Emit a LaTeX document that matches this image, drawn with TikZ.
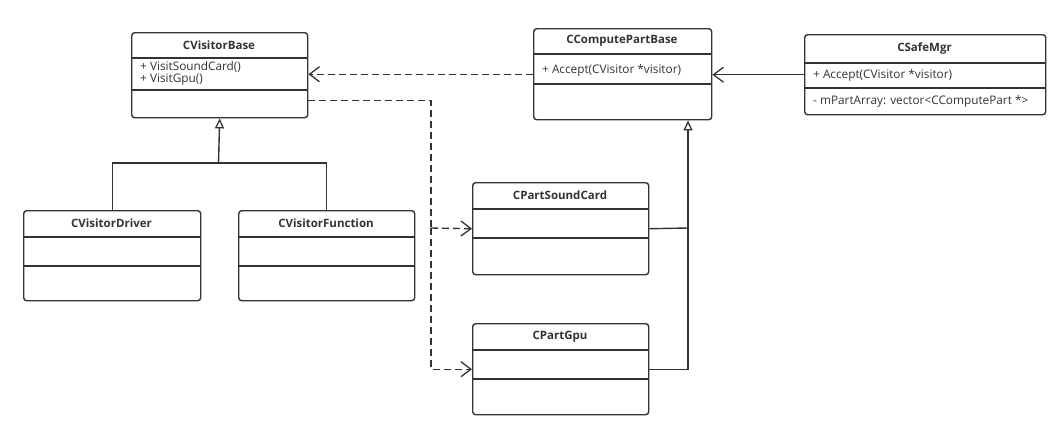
\documentclass[tikz,border=0pt]{standalone}
\usepackage{fontspec}
\setmainfont{Open Sans}
\usetikzlibrary{arrows.meta}
\definecolor{ln}{HTML}{333333}
\tikzset{
 box/.style={draw=ln, line width=1.4pt, rounded corners=3pt, inner sep=0pt, anchor=north west, fill=white},
 ttl/.style={font=\bfseries\fontsize{11.5}{13}\selectfont, text=ln, inner sep=0pt},
 mem/.style={font=\fontsize{11.8}{13}\selectfont, text=ln, inner sep=0pt, anchor=west},
 conn/.style={draw=ln, line width=1.4pt},
 openhead/.style={-{Straight Barb[length=10pt,width=15pt,line width=1.3pt]}},
 dep/.style={conn, dash pattern=on 7pt off 4pt, openhead},
 inh/.style={conn, -{Triangle[open,length=10pt,width=9pt,line width=1.3pt]}},
}
\newcommand\umlcls[8]{%
 \node[box, minimum width={#4-#2}, minimum height={#5-#3}] (#1) at (#2,#3) {};
 \draw[conn] (#2,#6) -- (#4,#6);
 \draw[conn] (#2,#7) -- (#4,#7);
 \node[ttl] (#1-t) at ({(#2+#4)/2},{(#3+#6)/2}) {#8};
}
\begin{document}
\begin{tikzpicture}[x=1pt,y=-1pt]
\useasboundingbox[fill=white] (0,0) rectangle (1064,426);
% classes
\umlcls{cvb}{131}{32}{307}{117}{58}{90}{CVisitorBase}
\node[mem] (cvb-m1) at (140,67) {+ VisitSoundCard()};
\node[mem] (cvb-m2) at (140,80) {+ VisitGpu()};
\umlcls{cpb}{533}{28}{711}{119}{54}{84}{CComputePartBase}
\node[mem] (cpb-m1) at (542,70) {+ Accept(CVisitor *visitor)};
\umlcls{csm}{804}{34}{1045}{114}{63}{88}{CSafeMgr}
\node[mem] (csm-m1) at (813,75.5) {+ Accept(CVisitor *visitor)};
\node[mem] (csm-m2) at (813,101) {- mPartArray: vector\textless CComputePart *\textgreater};
\umlcls{cvd}{23}{210}{200}{300}{237}{266}{CVisitorDriver}
\umlcls{cvf}{238}{210}{414}{300}{237}{266}{CVisitorFunction}
\umlcls{psc}{472}{182}{648}{274}{209}{238}{CPartSoundCard}
\umlcls{gpu}{472}{323}{648}{414}{350}{379}{CPartGpu}
% junction coordinates
\coordinate (jv) at (218.5,163);
\coordinate (jp) at (688,228);
\coordinate (jd) at (431,228);
% inheritance of visitors
\draw[conn] (cvd.north) |- (cvf.north |- jv) -- (cvf.north);
\draw[inh] (jv) -- (cvb.south);
% inheritance of parts
\draw[conn] (gpu.east) -| (jp);
\draw[conn] (psc.east) -- (jp);
\draw[inh] (jp) -- (jp |- cpb.south);
% association
\draw[conn, openhead] (csm.west) -- (csm.west -| cpb.east);
% dependency
\draw[dep] (cpb.west) -- (cpb.west -| cvb.east);
\draw[conn, dash pattern=on 7pt off 4pt] ([yshift=-25.5pt]cvb.east) -| (jd);
\draw[dep] (jd) |- (gpu.west);
\draw[dep] (jd) -- (psc.west);
\end{tikzpicture}
\end{document}
